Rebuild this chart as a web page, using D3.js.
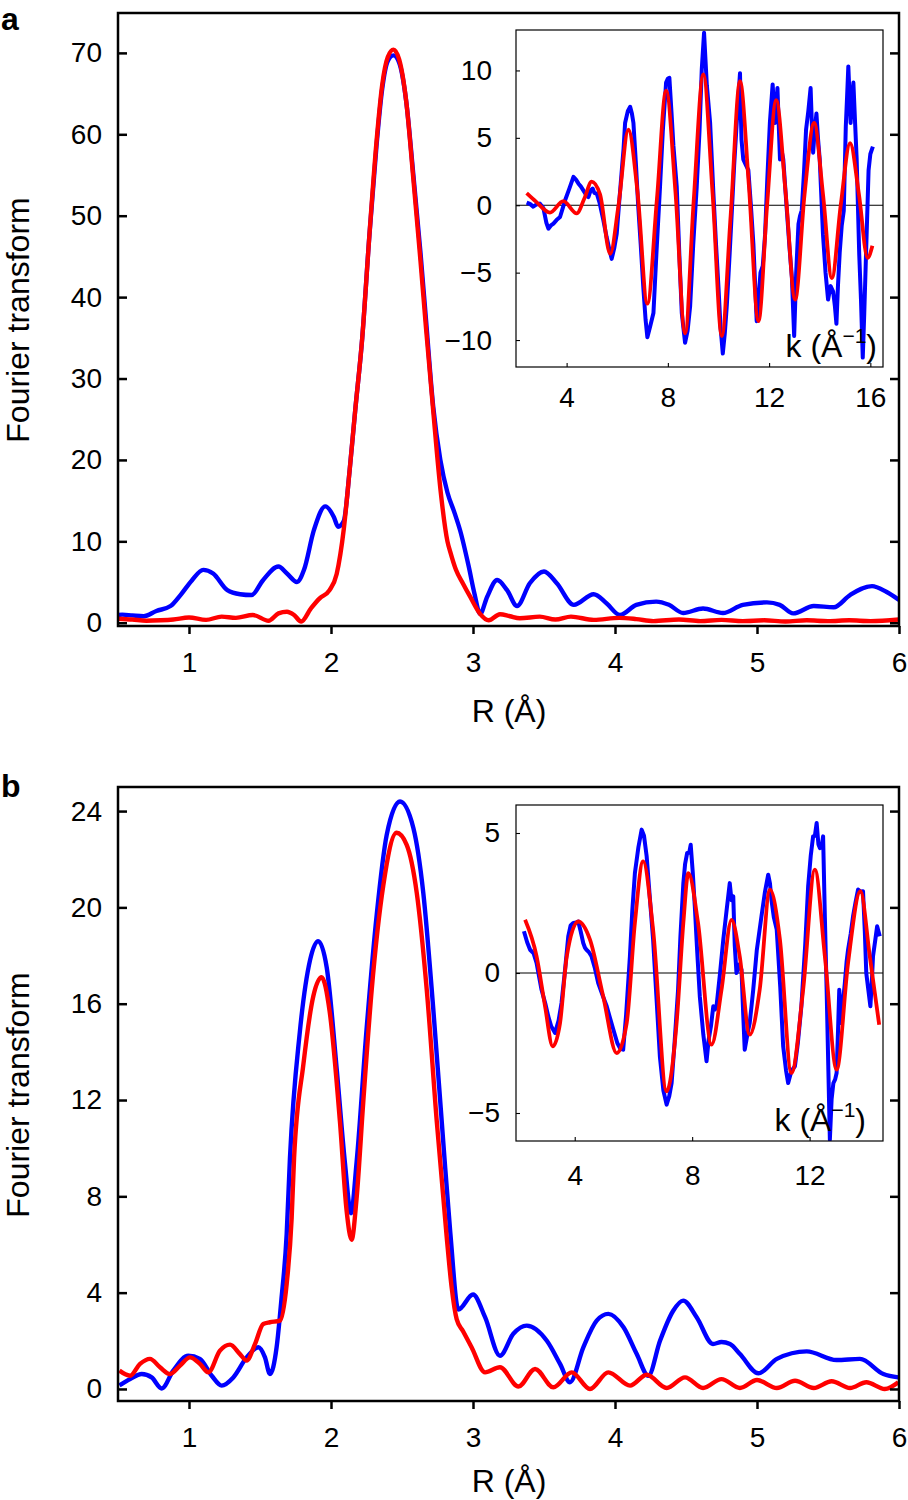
<!DOCTYPE html>
<html>
<head>
<meta charset="utf-8">
<script src="https://cdn.jsdelivr.net/npm/d3@7"></script>
<style>
body { margin: 0; background: #fff; }
text { font-family: "Liberation Sans", Arial, Helvetica, sans-serif; fill: #000; }
</style>
</head>
<body>
<svg id="chart" width="908" height="1500"></svg>
<script>
// ---- data: [R or k, value] ----

// panel a, Fourier transform (R space)
var aExp = [[0.5,0.95],[0.53,1.0],[0.6,0.9],[0.68,0.8],[0.77,1.45],[0.87,2.05],[0.94,3.4],[1.02,5.2],[1.1,6.5],[1.17,6.05],[1.27,4.0],[1.36,3.5],[1.44,3.4],[1.52,5.2],[1.63,6.9],[1.69,6.05],[1.76,5.0],[1.81,6.5],[1.88,11.4],[1.96,14.3],[2.02,13.0],[2.05,11.8],[2.09,12.5],[2.13,18.5],[2.17,26.0],[2.22,35.0],[2.27,47.5],[2.32,58.5],[2.36,65.5],[2.40,69.0],[2.44,69.7],[2.48,68.8],[2.53,64.0],[2.58,55.0],[2.63,45.5],[2.67,37.0],[2.72,26.5],[2.77,20.0],[2.82,16.0],[2.87,13.5],[2.91,11.3],[2.97,6.9],[3.01,3.6],[3.05,1.1],[3.10,3.2],[3.17,5.25],[3.24,4.0],[3.31,2.05],[3.40,4.85],[3.50,6.3],[3.59,4.85],[3.71,2.2],[3.85,3.5],[3.94,2.4],[4.035,0.95],[4.15,2.2],[4.29,2.6],[4.38,2.2],[4.48,1.2],[4.62,1.75],[4.76,1.2],[4.90,2.2],[5.07,2.5],[5.16,2.2],[5.255,1.15],[5.40,2.05],[5.54,1.9],[5.655,3.4],[5.81,4.5],[5.91,3.8],[6.0,2.8]];
var aFit = [[0.5,0.5],[0.6,0.4],[0.7,0.25],[0.8,0.3],[0.89,0.4],[1.0,0.65],[1.12,0.35],[1.23,0.75],[1.33,0.6],[1.45,0.95],[1.56,0.25],[1.63,1.15],[1.69,1.35],[1.74,0.95],[1.79,0.15],[1.86,1.8],[1.92,3.0],[1.99,4.0],[2.04,6.0],[2.09,11.5],[2.13,18.5],[2.17,26.0],[2.22,35.0],[2.27,47.5],[2.32,59.0],[2.36,66.0],[2.40,69.5],[2.44,70.4],[2.48,69.2],[2.53,64.0],[2.58,54.5],[2.63,44.5],[2.67,36.0],[2.72,26.0],[2.77,16.5],[2.82,10.0],[2.84,8.7],[2.88,6.5],[2.93,4.8],[2.98,3.2],[3.05,1.1],[3.11,0.3],[3.19,1.05],[3.26,0.8],[3.33,0.55],[3.47,0.75],[3.58,0.4],[3.69,0.75],[3.85,0.35],[4.03,0.6],[4.15,0.45],[4.27,0.2],[4.45,0.4],[4.6,0.2],[4.75,0.35],[4.9,0.2],[5.05,0.3],[5.2,0.15],[5.35,0.3],[5.5,0.2],[5.65,0.3],[5.8,0.2],[6.0,0.4]];

// panel a inset, chi(k) (k space)
var aKExp = [[2.42,0.2],[2.55,0.1],[2.68,-0.1],[2.8,0.05],[2.94,0.12],[3.08,-0.2],[3.2,-1.3],[3.28,-1.74],[3.38,-1.5],[3.48,-1.36],[3.6,-1.1],[3.74,-0.87],[3.85,-0.2],[3.94,0.37],[4.1,1.2],[4.27,2.1],[4.37,1.9],[4.47,1.6],[4.56,1.4],[4.66,1.1],[4.76,0.8],[4.86,0.6],[4.95,1.1],[5.03,1.24],[5.1,0.9],[5.19,0.87],[5.3,0.2],[5.45,-1.1],[5.58,-2.36],[5.68,-3.2],[5.78,-3.98],[5.88,-3.2],[5.98,-2.1],[6.08,0.3],[6.18,2.6],[6.25,4.2],[6.31,6.1],[6.42,7.0],[6.51,7.3],[6.58,6.8],[6.64,6.1],[6.74,3.0],[6.83,-0.1],[6.93,-3.0],[7.03,-6.1],[7.12,-8.5],[7.19,-9.8],[7.3,-9.0],[7.43,-8.0],[7.55,-3.5],[7.69,1.37],[7.8,5.5],[7.93,9.1],[8.0,9.4],[8.06,9.45],[8.14,7.0],[8.22,4.4],[8.35,1.4],[8.45,-3.5],[8.55,-8.0],[8.68,-10.2],[8.78,-9.3],[8.88,-7.5],[9.0,-3.0],[9.14,1.37],[9.25,5.5],[9.34,10.1],[9.43,12.8],[9.48,11.0],[9.54,8.9],[9.6,7.6],[9.67,6.1],[9.8,0.87],[9.9,-2.8],[10.0,-6.1],[10.08,-9.0],[10.17,-11.0],[10.25,-9.5],[10.33,-7.4],[10.43,-4.0],[10.53,-0.37],[10.62,3.0],[10.72,6.1],[10.85,9.8],[10.88,7.0],[10.91,4.85],[10.98,3.4],[11.08,3.0],[11.18,2.6],[11.28,0.0],[11.38,-2.9],[11.45,-6.0],[11.51,-8.6],[11.58,-7.0],[11.66,-5.0],[11.75,-4.5],[11.84,-2.2],[11.93,2.0],[12.03,6.1],[12.14,8.96],[12.23,6.1],[12.33,8.7],[12.38,6.0],[12.43,3.4],[12.5,4.0],[12.56,3.4],[12.7,-0.37],[12.8,-3.0],[12.9,-5.35],[12.99,-9.7],[13.07,-5.0],[13.16,-1.4],[13.22,-0.8],[13.29,-0.37],[13.38,2.5],[13.46,5.6],[13.55,7.0],[13.64,8.7],[13.69,6.0],[13.74,3.9],[13.8,5.5],[13.87,6.8],[13.93,5.0],[14.0,3.4],[14.13,-2.2],[14.23,-5.0],[14.33,-7.0],[14.43,-6.0],[14.53,-6.4],[14.6,-7.5],[14.66,-8.8],[14.72,-6.0],[14.79,-3.5],[14.87,-1.5],[14.95,-0.4],[15.03,5.85],[15.08,8.0],[15.13,10.3],[15.18,8.0],[15.22,6.1],[15.28,8.0],[15.33,9.1],[15.4,6.0],[15.46,3.4],[15.56,-3.6],[15.63,-7.0],[15.7,-11.3],[15.76,-8.0],[15.83,-3.6],[15.93,2.6],[16.0,3.8],[16.1,4.35]];
var aKFit = [[2.42,0.9],[2.8,0.25],[3.34,-0.55],[3.87,0.3],[4.4,-0.6],[4.7,0.5],[4.99,1.75],[5.32,0.8],[5.72,-3.6],[6.05,0.0],[6.44,5.6],[6.8,1.0],[7.19,-7.3],[7.57,0.5],[7.93,8.5],[8.3,1.0],[8.68,-9.5],[9.02,0.3],[9.4,9.7],[9.77,0.8],[10.13,-9.7],[10.48,-0.8],[10.85,9.2],[11.2,1.5],[11.58,-8.6],[11.92,0.0],[12.28,7.8],[12.65,1.0],[13.03,-7.0],[13.4,0.8],[13.78,6.1],[14.13,0.8],[14.48,-5.4],[14.83,0.0],[15.2,4.6],[15.55,0.8],[15.89,-3.9],[16.08,-3.0]];

// panel b, Fourier transform (R space)
var bExp = [[0.51,0.15],[0.585,0.41],[0.667,0.62],[0.737,0.48],[0.808,0.02],[0.889,0.76],[0.995,1.38],[1.077,1.25],[1.16,0.55],[1.23,0.14],[1.312,0.48],[1.406,1.31],[1.488,1.73],[1.535,1.31],[1.57,0.62],[1.617,1.73],[1.65,3.67],[1.688,6.44],[1.711,9.6],[1.78,14.8],[1.852,17.8],[1.91,18.6],[1.97,17.5],[2.04,13.3],[2.098,9.4],[2.141,7.3],[2.18,9.4],[2.25,14.9],[2.322,19.7],[2.392,23.0],[2.486,24.4],[2.58,23.3],[2.65,20.6],[2.72,15.8],[2.79,10.3],[2.84,6.5],[2.897,3.3],[3.0,3.92],[3.085,2.98],[3.19,1.38],[3.284,2.29],[3.378,2.63],[3.52,2.0],[3.613,1.04],[3.683,0.28],[3.777,1.73],[3.871,2.84],[3.953,3.12],[4.06,2.56],[4.153,1.45],[4.235,0.55],[4.317,2.0],[4.41,3.25],[4.48,3.67],[4.575,2.98],[4.69,1.87],[4.75,1.95],[4.81,1.87],[4.88,1.45],[5.01,0.65],[5.14,1.25],[5.35,1.56],[5.56,1.2],[5.725,1.25],[5.89,0.62],[5.995,0.48]];
var bFit = [[0.51,0.76],[0.585,0.55],[0.655,1.04],[0.725,1.25],[0.796,0.9],[0.866,0.62],[0.937,0.97],[1.007,1.31],[1.077,1.04],[1.136,0.69],[1.218,1.59],[1.289,1.84],[1.359,1.45],[1.406,1.18],[1.465,1.87],[1.523,2.7],[1.57,2.77],[1.641,2.84],[1.688,4.37],[1.723,7.1],[1.74,9.6],[1.805,13.45],[1.875,16.3],[1.934,17.1],[1.99,15.7],[2.063,11.1],[2.11,7.4],[2.145,6.2],[2.18,7.9],[2.227,11.9],[2.287,16.6],[2.368,20.9],[2.462,23.1],[2.533,22.6],[2.604,20.6],[2.674,16.6],[2.745,11.1],[2.815,6.3],[2.85,4.2],[2.885,2.9],[2.93,2.4],[2.99,1.73],[3.085,0.69],[3.19,0.9],[3.32,0.1],[3.437,0.83],[3.566,0.07],[3.695,0.69],[3.824,0.0],[3.953,0.69],[4.106,0.14],[4.223,0.59],[4.364,0.04],[4.493,0.48],[4.62,0.04],[4.75,0.41],[4.88,0.04],[5.0,0.37],[5.14,0.04],[5.268,0.34],[5.4,0.04],[5.526,0.32],[5.655,0.04],[5.77,0.28],[5.9,0.0],[5.995,0.28]];

// panel b inset, chi(k)
var bKExp = [[2.27,1.49],[2.38,1.1],[2.48,0.83],[2.6,0.7],[2.7,0.36],[2.87,-0.6],[3.0,-1.1],[3.1,-1.55],[3.2,-1.9],[3.33,-2.14],[3.45,-1.7],[3.55,-1.07],[3.66,0.0],[3.78,1.31],[3.86,1.7],[3.95,1.79],[4.04,1.8],[4.12,1.84],[4.2,1.5],[4.29,1.07],[4.35,0.9],[4.4,0.83],[4.48,0.75],[4.57,0.6],[4.68,0.2],[4.8,-0.36],[4.95,-0.8],[5.09,-1.19],[5.2,-1.6],[5.31,-2.0],[5.45,-2.5],[5.55,-2.7],[5.65,-2.74],[5.75,-1.5],[5.88,0.6],[5.96,2.2],[6.05,3.57],[6.17,4.5],[6.28,5.12],[6.36,4.9],[6.45,4.17],[6.55,2.8],[6.67,1.19],[6.78,-0.8],[6.9,-2.98],[7.02,-4.2],[7.13,-4.7],[7.22,-4.4],[7.3,-3.93],[7.4,-2.5],[7.52,-0.6],[7.6,1.3],[7.7,3.21],[7.76,3.9],[7.83,4.29],[7.9,4.3],[7.95,4.58],[8.02,3.6],[8.09,2.38],[8.17,0.8],[8.26,-0.83],[8.38,-2.2],[8.49,-3.15],[8.56,-2.4],[8.64,-1.9],[8.72,-1.19],[8.78,-1.3],[8.83,-1.19],[8.95,0.0],[9.06,1.19],[9.18,2.3],[9.28,3.21],[9.34,2.6],[9.4,2.74],[9.45,1.0],[9.51,0.0],[9.6,0.3],[9.68,0.12],[9.74,-1.5],[9.79,-2.74],[9.88,-2.2],[9.96,-1.79],[10.02,-1.2],[10.08,-0.6],[10.2,0.8],[10.36,2.02],[10.48,2.9],[10.59,3.51],[10.65,3.2],[10.7,2.62],[10.78,2.0],[10.88,1.55],[11.0,-0.5],[11.1,-2.62],[11.2,-3.5],[11.27,-3.93],[11.38,-3.5],[11.5,-3.33],[11.6,-2.5],[11.72,-1.19],[11.85,1.0],[11.95,3.09],[12.04,4.2],[12.12,4.88],[12.18,4.9],[12.24,5.36],[12.3,4.6],[12.35,4.46],[12.41,4.5],[12.46,4.88],[12.52,2.0],[12.58,-0.6],[12.64,-3.5],[12.69,-5.95],[12.75,-4.5],[12.81,-3.93],[12.87,-3.8],[12.92,-3.57],[12.97,-2.0],[13.01,-0.6],[13.05,-1.2],[13.09,-1.79],[13.14,-1.0],[13.2,-0.36],[13.26,0.4],[13.31,0.83],[13.4,1.4],[13.48,2.02],[13.56,2.5],[13.65,2.98],[13.74,2.9],[13.82,2.92],[13.88,1.5],[13.93,0.0],[14.0,-0.6],[14.07,-1.19],[14.12,-0.3],[14.16,0.6],[14.24,1.2],[14.3,1.67],[14.39,1.31]];
var bKFit = [[2.31,1.9],[2.7,0.6],[2.99,-1.19],[3.25,-2.62],[3.5,-1.79],[3.73,0.6],[4.12,1.84],[4.52,1.19],[4.97,-0.83],[5.43,-2.86],[5.77,-1.79],[6.05,1.79],[6.33,3.99],[6.67,1.55],[7.13,-4.23],[7.47,-1.79],[7.7,1.79],[7.87,3.57],[8.2,1.79],[8.66,-2.56],[9.0,-0.6],[9.34,1.9],[9.62,0.6],[9.96,-2.2],[10.3,-0.6],[10.65,2.98],[10.99,1.19],[11.38,-3.57],[11.78,-0.6],[12.18,3.69],[12.52,0.6],[12.92,-3.45],[13.31,0.36],[13.73,2.92],[14.05,0.6],[14.37,-1.85]];

// tick values
var rTicks = [1, 2, 3, 4, 5, 6];
var aYTicks = [0, 10, 20, 30, 40, 50, 60, 70];
var bYTicks = [0, 4, 8, 12, 16, 20, 24];
var aKTicks = [4, 8, 12, 16];
var aKYTicks = [-10, -5, 0, 5, 10];
var bKTicks = [4, 8, 12];
var bKYTicks = [-5, 0, 5];

var svg = d3.select("#chart");
var clipId = 0;
var FONT = "Liberation Sans, Arial, Helvetica, sans-serif";

function addClip(x0, y0, w, h) {
	clipId++;
	svg.append("clipPath").attr("id", "clip" + clipId)
		.append("rect").attr("x", x0).attr("y", y0).attr("width", w).attr("height", h);
	return "url(#clip" + clipId + ")";
}

// d3 axis sets its own font, so restyle after the call
function styleAxis(g, width, size) {
	g.attr("font-size", size).attr("font-family", FONT);
	g.select(".domain").remove();
	g.selectAll(".tick line").attr("stroke", "#000").attr("stroke-width", width);
	g.selectAll(".tick text").attr("fill", "#000");
}

function drawMain(cfg) {
	var left = 118, right = 899;
	var x = d3.scaleLinear().domain([0.5, 6]).range([left, right]);
	var y = d3.scaleLinear().domain(cfg.yDomain).range([cfg.bottom, cfg.top]);

	var line = d3.line()
		.x(function (d) { return x(d[0]); })
		.y(function (d) { return y(d[1]); })
		.curve(d3.curveMonotoneX);

	var clip = addClip(left, cfg.top, right - left, cfg.bottom - cfg.top);
	var plot = svg.append("g").attr("clip-path", clip);
	plot.append("path").datum(cfg.exp)
		.attr("d", line).attr("fill", "none")
		.attr("stroke", "#0000ff").attr("stroke-width", 4.4)
		.attr("stroke-linejoin", "round");
	plot.append("path").datum(cfg.fit)
		.attr("d", line).attr("fill", "none")
		.attr("stroke", "#ff0000").attr("stroke-width", 4.4)
		.attr("stroke-linejoin", "round");

	// left axis, ticks pointing in
	var gl = svg.append("g")
		.attr("transform", "translate(" + left + ",0)")
		.call(d3.axisLeft(y).tickValues(cfg.yTicks).tickSizeInner(-9).tickSizeOuter(0).tickPadding(16));
	styleAxis(gl, 2.5, 28);

	// right axis, ticks only
	var gr = svg.append("g")
		.attr("transform", "translate(" + right + ",0)")
		.call(d3.axisRight(y).tickValues(cfg.yTicks).tickSizeInner(-9).tickSizeOuter(0).tickFormat(""));
	styleAxis(gr, 2.5, 28);

	// bottom axis, ticks pointing out
	var gb = svg.append("g")
		.attr("transform", "translate(0," + cfg.bottom + ")")
		.call(d3.axisBottom(x).tickValues(rTicks).tickSizeInner(8).tickSizeOuter(0).tickPadding(18).tickFormat(d3.format("d")));
	styleAxis(gb, 2.5, 28);

	// frame
	svg.append("rect")
		.attr("x", left).attr("y", cfg.top)
		.attr("width", right - left).attr("height", cfg.bottom - cfg.top)
		.attr("fill", "none").attr("stroke", "#000").attr("stroke-width", 2.5);

	svg.append("text")
		.attr("x", 509).attr("y", cfg.xLabelY)
		.attr("text-anchor", "middle").attr("font-size", 32)
		.text("R (Å)");

	svg.append("text")
		.attr("transform", "translate(29," + cfg.yLabelY + ") rotate(-90)")
		.attr("text-anchor", "middle").attr("font-size", 32)
		.text("Fourier transform");

	svg.append("text")
		.attr("x", 1).attr("y", cfg.letterY)
		.attr("font-size", 32).attr("font-weight", "bold")
		.text(cfg.letter);
}

function drawInset(cfg) {
	var left = 516, right = 883;
	var x = d3.scaleLinear().domain(cfg.xDomain).range([left, right]);
	var y = d3.scaleLinear().domain(cfg.yDomain).range([cfg.bottom, cfg.top]);

	svg.append("rect")
		.attr("x", left).attr("y", cfg.top)
		.attr("width", right - left).attr("height", cfg.bottom - cfg.top)
		.attr("fill", "#fff");

	// zero line
	svg.append("line")
		.attr("x1", left).attr("x2", right)
		.attr("y1", y(0)).attr("y2", y(0))
		.attr("stroke", "#000").attr("stroke-width", 1.1);

	var clip = addClip(left, cfg.top, right - left, cfg.bottom - cfg.top);
	var plot = svg.append("g").attr("clip-path", clip);

	var rough = d3.line()
		.x(function (d) { return x(d[0]); })
		.y(function (d) { return y(d[1]); });
	var smooth = d3.line()
		.x(function (d) { return x(d[0]); })
		.y(function (d) { return y(d[1]); })
		.curve(d3.curveMonotoneX);

	plot.append("path").datum(cfg.exp)
		.attr("d", rough).attr("fill", "none")
		.attr("stroke", "#0000ff").attr("stroke-width", 4)
		.attr("stroke-linejoin", "round");
	plot.append("path").datum(cfg.fit)
		.attr("d", smooth).attr("fill", "none")
		.attr("stroke", "#ff0000").attr("stroke-width", 3.8)
		.attr("stroke-linejoin", "round");

	var gl = svg.append("g")
		.attr("transform", "translate(" + left + ",0)")
		.call(d3.axisLeft(y).tickValues(cfg.yTicks).tickSizeInner(-4).tickSizeOuter(0).tickPadding(cfg.yPad));
	styleAxis(gl, 1.1, 28);

	var gb = svg.append("g")
		.attr("transform", "translate(0," + cfg.bottom + ")")
		.call(d3.axisBottom(x).tickValues(cfg.xTicks).tickSizeInner(-4).tickSizeOuter(0).tickPadding(cfg.xPad).tickFormat(d3.format("d")));
	styleAxis(gb, 1.1, 28);

	svg.append("rect")
		.attr("x", left).attr("y", cfg.top)
		.attr("width", right - left).attr("height", cfg.bottom - cfg.top)
		.attr("fill", "none").attr("stroke", "#000").attr("stroke-width", 1.2);

	var lab = svg.append("text")
		.attr("x", cfg.kLabelX).attr("y", cfg.kLabelY)
		.attr("text-anchor", "end").attr("font-size", 32);
	lab.append("tspan").text("k (Å");
	lab.append("tspan").attr("font-size", 21).attr("dy", -14).text("−1");
	lab.append("tspan").attr("dy", 14).text(")");
}

drawMain({
	top: 13, bottom: 626, yDomain: [-0.4, 74.9], yTicks: aYTicks,
	exp: aExp, fit: aFit,
	xLabelY: 722, yLabelY: 320, letter: "a", letterY: 30
});
drawInset({
	top: 30, bottom: 367, xDomain: [2, 16.5], yDomain: [-12, 13],
	xTicks: aKTicks, yTicks: aKYTicks, exp: aKExp, fit: aKFit,
	yPad: 24, xPad: 20, kLabelX: 877, kLabelY: 357
});

drawMain({
	top: 787, bottom: 1401, yDomain: [-0.5, 25], yTicks: bYTicks,
	exp: bExp, fit: bFit,
	xLabelY: 1492, yLabelY: 1095, letter: "b", letterY: 797
});
drawInset({
	top: 805, bottom: 1141, xDomain: [2, 14.5], yDomain: [-6, 6],
	xTicks: bKTicks, yTicks: bKYTicks, exp: bKExp, fit: bKFit,
	yPad: 16, xPad: 24, kLabelX: 866, kLabelY: 1131
});
</script>
</body>
</html>
